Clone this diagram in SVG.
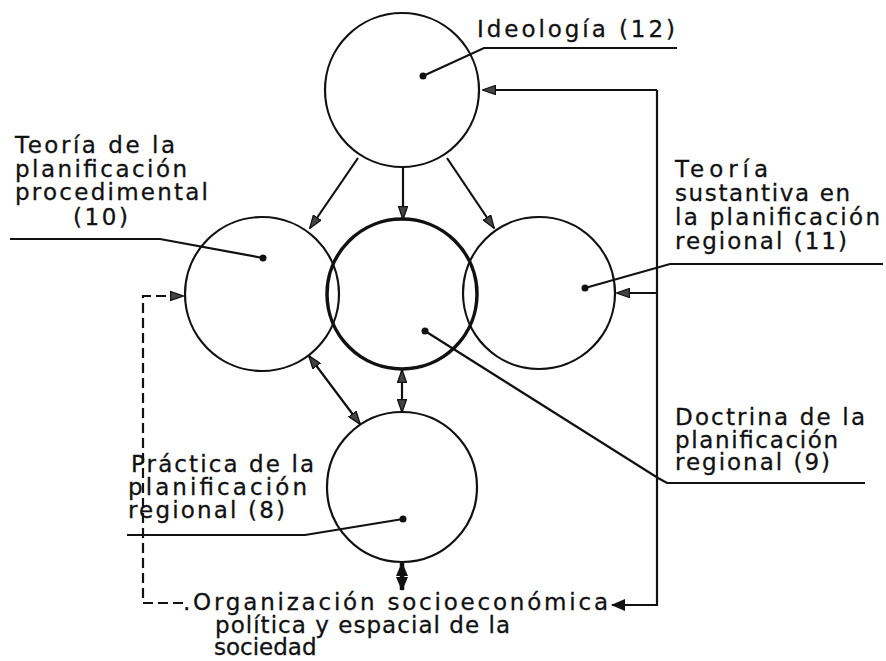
<svg xmlns="http://www.w3.org/2000/svg" width="886" height="661" viewBox="0 0 886 661">
<style>
.c{fill:none;stroke:#111;stroke-width:2.2}
.ln{fill:none;stroke:#111;stroke-width:2.2}
.t{font-family:"DejaVu Sans",sans-serif;font-size:23px;fill:#111;stroke:#111;stroke-width:0.3}
.dot{fill:#111}
</style>
<defs>
<marker id="ah" viewBox="0 0 14 10" refX="13" refY="5" markerWidth="14" markerHeight="10" markerUnits="userSpaceOnUse" orient="auto-start-reverse">
<path d="M0.5,0.5 L13.5,5 L0.5,9.5 Z" fill="#444" stroke="#111" stroke-width="1.3"/>
</marker>
<marker id="ahb" viewBox="0 0 14 12" refX="13" refY="6" markerWidth="14" markerHeight="12" markerUnits="userSpaceOnUse" orient="auto-start-reverse">
<path d="M0,0 L14,6 L0,12 Z" fill="#111"/>
</marker>
</defs>
<rect width="886" height="661" fill="#fff"/>

<g id="ideologia">
<circle class="c" cx="402" cy="90" r="77"/>
<circle class="dot" cx="423" cy="76" r="3.5"/>
<text class="t" x="477" y="37" font-size="25" textLength="198" lengthAdjust="spacing">Ideología (12)</text>
</g>

<g id="procedimental">
<circle class="c" cx="262" cy="294" r="77"/>
<circle class="dot" cx="263" cy="258" r="3.5"/>
<text class="t"><tspan x="15" y="153" textLength="160" lengthAdjust="spacing">Teoría de la</tspan><tspan x="15" y="177" textLength="172" lengthAdjust="spacing">planificación</tspan><tspan x="15" y="200" textLength="193" lengthAdjust="spacing">procedimental</tspan><tspan x="73" y="225" textLength="55" lengthAdjust="spacing">(10)</tspan></text>
</g>

<g id="doctrina">
<circle cx="402" cy="294" r="75" fill="none" stroke="#111" stroke-width="3.5"/>
<circle class="dot" cx="425" cy="331" r="3.5"/>
<text class="t"><tspan x="675" y="425" textLength="190" lengthAdjust="spacing">Doctrina de la</tspan><tspan x="675" y="448" textLength="163" lengthAdjust="spacing">planificación</tspan><tspan x="675" y="470" textLength="155" lengthAdjust="spacing">regional (9)</tspan></text>
</g>

<g id="sustantiva">
<circle class="c" cx="539" cy="293" r="76"/>
<circle class="dot" cx="585" cy="288" r="3.5"/>
<text class="t"><tspan x="675" y="177" textLength="93" lengthAdjust="spacing">Teoría</tspan><tspan x="675" y="201" textLength="175" lengthAdjust="spacing">sustantiva en</tspan><tspan x="675" y="225" textLength="205" lengthAdjust="spacing">la planificación</tspan><tspan x="675" y="249" textLength="172" lengthAdjust="spacing">regional (11)</tspan></text>
</g>

<g id="practica">
<circle class="c" cx="402" cy="487" r="75"/>
<circle class="dot" cx="403" cy="519" r="3.5"/>
<text class="t"><tspan x="131" y="472" textLength="183" lengthAdjust="spacing">Práctica de la</tspan><tspan x="128" y="495" textLength="179" lengthAdjust="spacing">planificación</tspan><tspan x="128" y="518" textLength="157" lengthAdjust="spacing">regional (8)</tspan></text>
</g>

<g id="organizacion">
<text class="t"><tspan x="183" y="610" textLength="425" lengthAdjust="spacing">.Organización socioeconómica</tspan><tspan x="215" y="633" textLength="295" lengthAdjust="spacing">política y espacial de la</tspan><tspan x="214" y="655">sociedad</tspan></text>
</g>

<g id="connectors">
<path class="ln" d="M423,76 L484,48 L677,48"/>
<path class="ln" d="M10,239 L160,239 L263,258"/>
<path class="ln" d="M585,288 L670,264 L883,264"/>
<path class="ln" d="M425,331 L658,478 L667,483 L865,483"/>
<path class="ln" d="M403,519 L305,535 L127,535"/>
<path class="ln" d="M358,158 L310,228" marker-end="url(#ah)"/>
<path class="ln" d="M403,167 L403,219" marker-end="url(#ah)"/>
<path class="ln" d="M447,158 L494,228" marker-end="url(#ah)"/>
<path class="ln" d="M309,356 L360,424" marker-start="url(#ah)" marker-end="url(#ah)"/>
<path class="ln" d="M402,370 L402,412" marker-start="url(#ah)" marker-end="url(#ah)"/>
<path fill="none" stroke="#111" stroke-width="4.5" d="M402,563 L402,590" marker-start="url(#ahb)" marker-end="url(#ahb)"/>
<path class="ln" d="M657,90 L483,90" marker-end="url(#ah)"/>
<path class="ln" d="M657,90 L657,605 L612,605" marker-end="url(#ahb)"/>
<path class="ln" d="M657,293 L617,293" marker-end="url(#ah)"/>
<path class="ln" stroke-dasharray="10 5" d="M183,603 L143,603 L143,296 L183,296" marker-end="url(#ah)"/>
</g>
</svg>
